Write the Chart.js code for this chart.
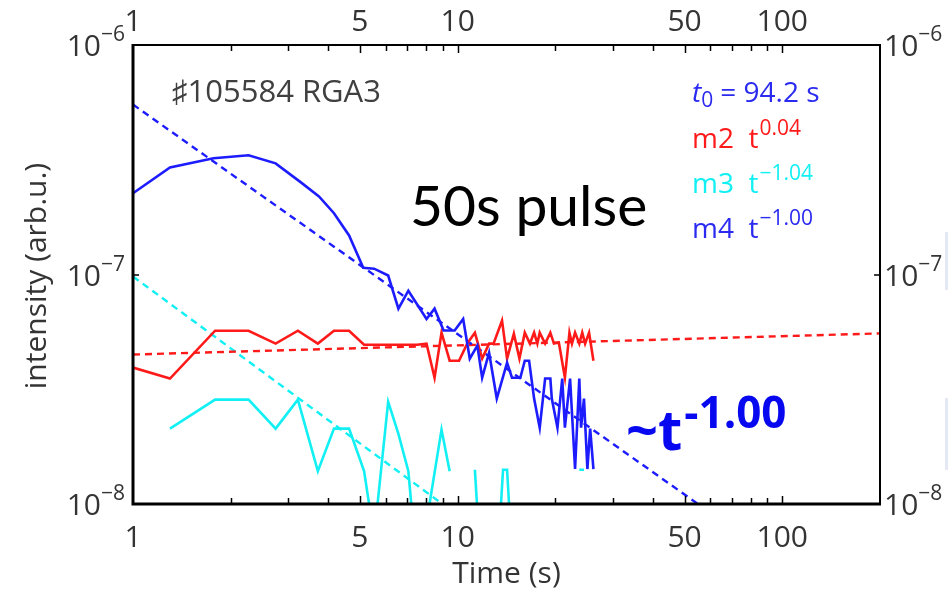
<!DOCTYPE html>
<html>
<head>
<meta charset="utf-8">
<script src="https://cdn.jsdelivr.net/npm/chart.js@4/dist/chart.umd.min.js"></script>
<style>
  html, body { margin: 0; padding: 0; background: #fff; }
  #wrap { width: 948px; height: 592px; position: relative; }
</style>
</head>
<body>
<div id="wrap"><canvas id="rgaChart"></canvas></div>
<script>
// RGA3 partial pressures after the 50 s pulse, shot #105584 (log-log)
const m4Time = [1.00, 1.30, 1.77, 2.27, 2.75, 3.29, 3.74, 4.16, 4.63, 5.12,
  5.53, 6.11, 6.57, 7.05, 8.02, 8.49, 9.05, 9.79, 10.4, 10.9,
  11.5, 11.9, 12.5, 13.2, 14.2, 14.7, 15.6, 16.1, 16.6, 17.2,
  17.9, 18.6, 19.3, 19.5, 20.3, 21.0, 21.4, 22.2, 23.0, 23.7,
  24.0, 24.5, 25.1, 25.6, 26.2];
const m4Value = [2.26e-7, 2.93e-7, 3.21e-7, 3.31e-7, 3.05e-7, 2.52e-7, 2.19e-7, 1.85e-7, 1.48e-7, 1.07e-7,
  1.06e-7, 9.9e-8, 7.1e-8, 8.5e-8, 6.4e-8, 7.1e-8, 5.7e-8, 5.7e-8, 6.4e-8, 4.3e-8,
  4.9e-8, 3.55e-8, 4.56e-8, 2.88e-8, 4.13e-8, 3.55e-8, 3.55e-8, 4.21e-8, 4.21e-8, 2.88e-8,
  2.15e-8, 3.52e-8, 3.52e-8, 2.88e-8, 2.15e-8, 3.52e-8, 2.15e-8, 3.52e-8, 1.42e-8, 3.52e-8,
  2.15e-8, 2.88e-8, 1.42e-8, 2.13e-8, 1.42e-8];

const m2Time = [1.00, 1.30, 1.79, 2.27, 2.75, 3.22, 3.71, 4.16, 4.63, 5.15,
  5.53, 6.11, 6.57, 7.05, 7.5, 8.02, 8.49, 8.92, 9.45, 10.1,
  10.7, 11.3, 11.9, 12.5, 12.9, 13.7, 14.2, 14.9, 15.5, 16.1,
  16.7, 17.2, 17.6, 17.9, 18.6, 19.3, 19.8, 20.5, 21.4, 22.1,
  22.5, 23.0, 23.7, 24.2, 24.7, 25.4, 26.2];
const m2Value = [3.93e-8, 3.52e-8, 5.69e-8, 5.69e-8, 5.0e-8, 5.69e-8, 5.0e-8, 5.69e-8, 5.69e-8, 4.94e-8,
  4.94e-8, 4.94e-8, 4.94e-8, 4.94e-8, 4.94e-8, 5.0e-8, 3.55e-8, 5.58e-8, 4.21e-8, 4.21e-8,
  5.0e-8, 5.58e-8, 4.3e-8, 5.0e-8, 5.0e-8, 6.3e-8, 4.3e-8, 5.52e-8, 4.3e-8, 5.58e-8,
  5.0e-8, 5.58e-8, 5.0e-8, 5.58e-8, 5.0e-8, 5.58e-8, 5.0e-8, 5.05e-8, 3.55e-8, 5.58e-8,
  5.0e-8, 5.58e-8, 5.0e-8, 5.58e-8, 5.0e-8, 5.58e-8, 4.21e-8];

// m3 drops to zero/negative in places -> null gaps, some points sit under the axis
const m3Time = [1.30, 1.79, 2.27, 2.75, 3.22, 3.71, 4.16, 4.63, 5.15, 5.53,
  6.11, 6.57, 7.05, 7.5, 8.02, 8.92, 9.45, 10.1, 11.3, 11.9,
  12.5, 13.4, 13.8, 14.2, 14.6, 15.0, 23.7, 24.5];
const m3Value = [2.13e-8, 2.85e-8, 2.85e-8, 2.13e-8, 2.85e-8, 1.39e-8, 2.13e-8, 2.13e-8, 1.39e-8, 7.2e-9,
  2.79e-8, 2.02e-8, 1.39e-8, 5.2e-9, 8.3e-9, 2.11e-8, 1.39e-8, null, 1.41e-8, 4.3e-9,
  null, 7.1e-9, 1.41e-8, 1.41e-8, 7.1e-9, null, 1.41e-8, 1.41e-8];

// power-law fits: [amplitude at t = 1 s, exponent]
const fitSpan = [1, 200];
const m2Fit = [4.48e-8, 0.04];
const m3Fit = [9.8e-8, -1.04];
const m4Fit = [5.5e-7, -1.00];

const xLabelValues = [1, 5, 10, 50, 100];
const xMinorValues = [2, 3, 4, 5, 6, 7, 8, 9, 10, 20, 30, 40, 50, 60, 70, 80, 90, 100];
const yLabelExps = [-6, -7, -8];

const BLUE = '#1c1cff';
const RED = '#ff1a1a';
const CYAN = '#12f0f4';
const AXIS_TXT = '#343434';
const FONT = '"Open Sans", "Noto Sans", sans-serif';

const toPoints = (ts, vs) => ts.map((t, i) => ({ x: t, y: vs[i] }));
const fitPoints = f => fitSpan.map(t => ({ x: t, y: f[0] * Math.pow(t, f[1]) }));

function fmtExp(e) {
  return (e < 0 ? '\u2212' : '') + Math.abs(e).toFixed(2);
}

// draws a list of text runs one after another, each with its own font / baseline shift
function drawRuns(ctx, x, y, runs, color) {
  ctx.fillStyle = color;
  ctx.textAlign = 'left';
  ctx.textBaseline = 'alphabetic';
  let cx = x;
  runs.forEach(r => {
    ctx.font = r.font;
    ctx.fillText(r.text, cx, y + (r.dy || 0));
    cx += ctx.measureText(r.text).width + (r.gap || 0);
  });
  return cx;
}

function runsWidth(ctx, runs) {
  let w = 0;
  runs.forEach(r => { ctx.font = r.font; w += ctx.measureText(r.text).width + (r.gap || 0); });
  return w;
}

const frameAndLabels = {
  id: 'frameAndLabels',
  afterDraw(chart) {
    const { ctx, chartArea: a, scales: { x, y } } = chart;
    ctx.save();

    // plot frame, left and bottom heavier
    ctx.strokeStyle = '#000';
    ctx.lineWidth = 2;
    ctx.strokeRect(a.left, a.top, a.right - a.left, a.bottom - a.top);
    ctx.lineWidth = 3;
    ctx.beginPath();
    ctx.moveTo(a.left, a.top - 1);
    ctx.lineTo(a.left, a.bottom);
    ctx.lineTo(a.right + 1, a.bottom);
    ctx.stroke();

    // inward tick marks on top and bottom
    ctx.lineWidth = 1.5;
    ctx.beginPath();
    xMinorValues.forEach(v => {
      const px = Math.round(x.getPixelForValue(v)) + 0.5;
      const len = (v === 5 || v === 10 || v === 50 || v === 100) ? 8 : 6;
      ctx.moveTo(px, a.bottom);
      ctx.lineTo(px, a.bottom - len);
      ctx.moveTo(px, a.top);
      ctx.lineTo(px, a.top + len);
    });
    const py7 = Math.round(y.getPixelForValue(1e-7));
    ctx.moveTo(a.left, py7);
    ctx.lineTo(a.left + 6, py7);
    ctx.moveTo(a.right, py7);
    ctx.lineTo(a.right - 6, py7);
    ctx.stroke();

    // x labels, bottom and top
    ctx.fillStyle = AXIS_TXT;
    ctx.font = '30px ' + FONT;
    ctx.textAlign = 'center';
    ctx.textBaseline = 'alphabetic';
    xLabelValues.forEach(v => {
      const px = x.getPixelForValue(v);
      ctx.fillText(String(v), px, a.bottom + 43);
      ctx.fillText(String(v), px, a.top - 14);
    });

    // y labels 10^n on both sides
    yLabelExps.forEach(e => {
      const py = y.getPixelForValue(Math.pow(10, e));
      const runs = [
        { text: '10', font: '30px ' + FONT, dy: 11 },
        { text: '\u2212' + Math.abs(e), font: '21px ' + FONT, dy: -4 }
      ];
      const w = runsWidth(ctx, runs);
      drawRuns(ctx, a.left - 8 - w, py, runs, AXIS_TXT);
      drawRuns(ctx, a.right + 4, py, runs, AXIS_TXT);
    });

    // axis titles
    ctx.fillStyle = AXIS_TXT;
    ctx.font = '30px ' + FONT;
    ctx.textAlign = 'center';
    ctx.fillText('Time (s)', (x.getPixelForValue(1) + x.getPixelForValue(200)) / 2, 583);
    ctx.save();
    ctx.translate(46, 276);
    ctx.rotate(-Math.PI / 2);
    ctx.fillText('intensity (arb.u.)', 0, 0);
    ctx.restore();

    // shot tag and pulse note
    drawRuns(ctx, 172, 102, [{ text: '\u266f105584 RGA3', font: '31px ' + FONT }], '#404040');
    drawRuns(ctx, 410, 226, [{ text: '50s pulse', font: '57px Lato, ' + FONT }], '#000');

    // fit legend
    const lf = '28px ' + FONT;
    const sf = '21px ' + FONT;
    drawRuns(ctx, 692, 102, [
      { text: 't', font: 'italic 28px ' + FONT },
      { text: '0', font: sf, dy: 5, gap: 7 },
      { text: '= 94.2 s', font: lf }
    ], '#2a2af0');
    drawRuns(ctx, 692, 148, [
      { text: 'm2  t', font: lf, gap: 1 },
      { text: fmtExp(m2Fit[1]), font: sf, dy: -13 }
    ], RED);
    drawRuns(ctx, 692, 193, [
      { text: 'm3  t', font: lf, gap: 1 },
      { text: fmtExp(m3Fit[1]), font: sf, dy: -13 }
    ], CYAN);
    drawRuns(ctx, 692, 238, [
      { text: 'm4  t', font: lf, gap: 1 },
      { text: fmtExp(m4Fit[1]), font: sf, dy: -13 }
    ], '#2a2af0');

    // slope callout
    drawRuns(ctx, 626, 450, [
      { text: '~t', font: 'bold 56px ' + FONT, gap: 2 },
      { text: '-' + Math.abs(m4Fit[1]).toFixed(2), font: 'bold 44px ' + FONT, dy: -22 }
    ], '#0808f0');

    // faint edge strip at the right margin
    ctx.fillStyle = '#e3e8f3';
    ctx.fillRect(945, 232, 3, 58);
    ctx.fillRect(945, 398, 3, 72);

    ctx.restore();
  }
};

const solid = (label, data, color, order) => ({
  label, data, borderColor: color, backgroundColor: color,
  borderWidth: 2.6, pointRadius: 0, tension: 0, spanGaps: false, order
});
const dashed = (label, data, color, order) => ({
  label, data, borderColor: color, backgroundColor: color,
  borderWidth: 2.4, borderDash: [7, 5], pointRadius: 0, tension: 0, order
});

new Chart(document.getElementById('rgaChart'), {
  type: 'line',
  data: {
    datasets: [
      solid('m4', toPoints(m4Time, m4Value), BLUE, 0),
      solid('m2', toPoints(m2Time, m2Value), RED, 1),
      solid('m3', toPoints(m3Time, m3Value), CYAN, 2),
      dashed('m4 fit', fitPoints(m4Fit), BLUE, 3),
      dashed('m2 fit', fitPoints(m2Fit), RED, 4),
      dashed('m3 fit', fitPoints(m3Fit), CYAN, 5)
    ]
  },
  options: {
    responsive: true,
    maintainAspectRatio: false,
    animation: false,
    layout: { padding: { left: 133, right: 68, top: 45, bottom: 88 } },
    plugins: { legend: { display: false }, tooltip: { enabled: false } },
    scales: {
      x: { type: 'logarithmic', min: 1, max: 200, display: false },
      y: { type: 'logarithmic', min: 1e-8, max: 1e-6, display: false }
    }
  },
  plugins: [frameAndLabels]
});
</script>
</body>
</html>
